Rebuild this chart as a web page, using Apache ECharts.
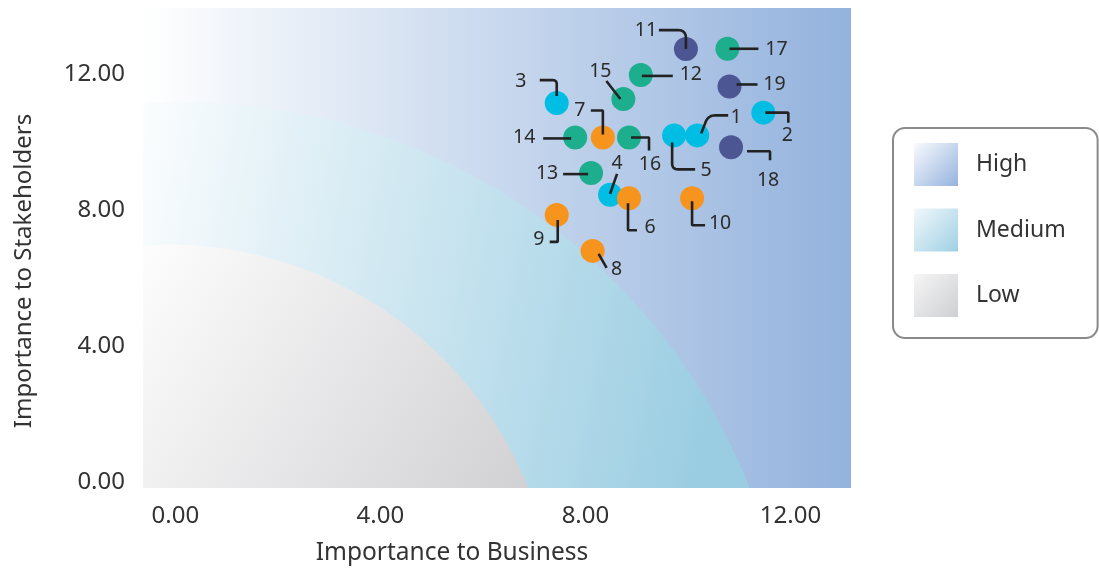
<!DOCTYPE html>
<html><head><meta charset="utf-8">
<script src="https://cdn.jsdelivr.net/npm/echarts@6/dist/echarts.min.js"></script>
<style>html,body{margin:0;padding:0;background:#fff}#c{width:1099px;height:570px}</style>
</head><body><div id="c"></div>
<script>
// ---- data ----
const labels = ['1','2','3','4','5','6','7','8','9','10','11','12','13','14','15','16','17','18','19'];
const business = [10.18, 11.47, 7.44, 8.48, 9.73, 8.85, 8.34, 8.14, 7.44, 10.08, 9.96, 9.08, 8.11, 7.80, 8.74, 8.85, 10.77, 10.84, 10.81];
const stakeholders = [10.20, 10.87, 11.15, 8.45, 10.20, 8.35, 10.14, 6.80, 7.86, 8.35, 12.74, 11.98, 9.09, 10.14, 11.27, 10.14, 12.75, 9.85, 11.64];
const groups = ['A','A','A','A','A','B','B','B','B','B','C','D','D','D','D','D','D','C','C'];
const zoneNames = ['High','Medium','Low'];
// zone boundaries: ellipse arcs in data units (High = whole plot)
const zoneCx = [null, 0.14, -0.12];
const zoneCy = [null, -6.76, -4.40];
const zoneRx = [null, 11.89, 7.54];
const zoneRy = [null, 17.94, 11.38];
const xTicks = [0, 4, 8, 12];
const yTicks = [0, 4, 8, 12];
const xRange = [-0.63, 13.18];
const yRange = [-0.18, 13.95];

// ---- styles ----
const FONT = '"Noto Sans", "Open Sans", sans-serif';
const groupColors = {A:'#00bde3', B:'#f7941d', C:'#4b5692', D:'#1dae8d'};
const lin = (x2, y2, c0, c1) => ({type:'linear', x:0, y:0, x2:x2, y2:y2, colorStops:[{offset:0,color:c0},{offset:1,color:c1}]});
const areaFill = [lin(1,0,'#ffffff','#93b2dd'), lin(1,0.3,'#fbfdfe','#9acde2'), lin(1,1,'#fdfdfd','#d1d1d4')];
const legendFill = [lin(1,1,'#f8fafd','#95b3de'), lin(1,1,'#f1f8fb','#9fd0e4'), lin(1,1,'#f6f6f6','#cecfd2')];
// leader line offsets (px, relative to point centre), corner radius, text centre
const leaderLayout = {
  '1':{line:[[4,-2],[11,-20],[31,-20]], r:7, text:[39,-18]},
  '2':{line:[[2,0],[25,0],[25,10]], r:1, text:[24,23]},
  '3':{line:[[-17,-23],[0,-23],[0,-7]], r:4, text:[-36,-22]},
  '4':{line:[[0,-1],[7,-21]], text:[7,-31]},
  '5':{line:[[-2,7],[-2,34],[21,34]], r:6, text:[32,35]},
  '6':{line:[[-1,5],[-1,32],[8,32]], r:1, text:[21,29]},
  '7':{line:[[0,-3],[0,-27],[-12,-27]], r:1, text:[-23,-27]},
  '8':{line:[[6,3],[14,17]], text:[24,19]},
  '9':{line:[[1,5],[1,27],[-7,27]], r:1, text:[-18,25]},
  '10':{line:[[0,3],[0,27],[13,27]], r:1, text:[28,25]},
  '11':{line:[[-27,-19],[0,-19],[0,0]], r:8, text:[-40,-19]},
  '12':{line:[[1,1],[32,1]], text:[50,0]},
  '13':{line:[[-28,1],[-3,1]], text:[-44,0]},
  '14':{line:[[-32,1],[-4,1]], text:[-51,0]},
  '15':{line:[[-17,-18],[-3,0]], text:[-23,-28]},
  '16':{line:[[2,0],[20,0],[20,13]], r:1, text:[21,27]},
  '17':{line:[[2,0],[31,0]], text:[49,1]},
  '18':{line:[[16,4],[39,4],[39,13]], r:1, text:[37,33]},
  '19':{line:[[7,-2],[28,-2]], text:[45,-2]}
};

function rounded(pts, r){
  if (!r || pts.length < 3) return pts;
  const out = [pts[0]];
  for (let i = 1; i < pts.length - 1; i++){
    const p0 = pts[i-1], p1 = pts[i], p2 = pts[i+1];
    const d0 = Math.hypot(p0[0]-p1[0], p0[1]-p1[1]), d2 = Math.hypot(p2[0]-p1[0], p2[1]-p1[1]);
    const a = [p1[0]+(p0[0]-p1[0])*r/d0, p1[1]+(p0[1]-p1[1])*r/d0];
    const b = [p1[0]+(p2[0]-p1[0])*r/d2, p1[1]+(p2[1]-p1[1])*r/d2];
    for (let k = 0; k <= 8; k++){
      const t = k/8, u = 1-t;
      out.push([u*u*a[0]+2*u*t*p1[0]+t*t*b[0], u*u*a[1]+2*u*t*p1[1]+t*t*b[1]]);
    }
  }
  out.push(pts[pts.length-1]);
  return out;
}

function zoneRender(zi){
  return function(params, api){
    const x0 = xRange[0], y0 = yRange[0];
    if (zoneRx[zi] == null){
      const p0 = api.coord([xRange[0], yRange[1]]), p1 = api.coord([xRange[1], yRange[0]]);
      return {type:'rect', shape:{x:p0[0], y:p0[1], width:p1[0]-p0[0], height:p1[1]-p0[1]}, style:{fill:areaFill[zi]}};
    }
    const cx = api.value(0), cy = api.value(1), rx = zoneRx[zi], ry = zoneRy[zi];
    const t0 = Math.asin((y0 - cy)/ry), t1 = Math.acos((x0 - cx)/rx);
    const pts = [api.coord([x0, y0])];
    const N = 160;
    for (let i = 0; i <= N; i++){
      const t = t0 + (t1-t0)*i/N;
      pts.push(api.coord([cx + rx*Math.cos(t), cy + ry*Math.sin(t)]));
    }
    return {type:'polygon', shape:{points:pts}, style:{fill:areaFill[zi]}};
  };
}

function leaderRender(params, api){
  const i = api.value(2);
  const c = api.coord([api.value(0), api.value(1)]);
  const L = leaderLayout[labels[i]];
  const pts = rounded(L.line.map(p => [c[0]+p[0], c[1]+p[1]]), L.r);
  return {type:'group', children:[
    {type:'polyline', shape:{points:pts}, style:{stroke:'#222', lineWidth:2.6, fill:null, lineJoin:'round'}},
    {type:'text', x:c[0]+L.text[0], y:c[1]+L.text[1], style:{text:labels[i], fill:'#2b2b2b', fontSize:19.5, fontFamily:FONT, align:'center', verticalAlign:'middle'}}
  ]};
}

const pointData = business.map((x, i) => [x, stakeholders[i], i]);
const zoneSeries = zoneNames.map((name, zi) => ({
  name: name, type:'custom', z:1, silent:true, clip:false,
  itemStyle:{color:legendFill[zi]},
  renderItem: zoneRender(zi),
  encode:{x:0, y:1},
  data:[[zoneCx[zi] == null ? 0 : zoneCx[zi], zoneCy[zi] == null ? 0 : zoneCy[zi]]]
}));

const chart = echarts.init(document.getElementById('c'));
chart.setOption({
  animation:false,
  textStyle:{fontFamily:FONT},
  grid:{left:143, right:248, top:8, bottom:82, containLabel:false, outerBoundsMode:'none'},
  legend:{
    orient:'vertical', left:893, top:128,
    itemWidth:44, itemHeight:43, itemGap:22.5,
    padding:[15,32,21,21],
    borderColor:'#8a8a8a', borderWidth:2, borderRadius:12,
    textStyle:{fontSize:23, color:'#333', fontFamily:FONT, padding:[0,0,0,13]},
    data: zoneNames.map((n, zi) => ({name:n, icon:'rect', itemStyle:{color:legendFill[zi]}}))
  },
  xAxis:{
    type:'value', min:xRange[0], max:xRange[1],
    splitLine:{show:false}, axisLine:{show:false}, axisTick:{show:false},
    axisLabel:{customValues:xTicks, formatter:v => v.toFixed(2), fontSize:24, color:'#333', margin:16, fontFamily:FONT},
    name:'Importance to Business', nameLocation:'middle', nameGap:53,
    nameTextStyle:{fontSize:24.5, color:'#333', fontFamily:FONT, padding:[0,90,0,0]}
  },
  yAxis:{
    type:'value', min:yRange[0], max:yRange[1],
    splitLine:{show:false}, axisLine:{show:false}, axisTick:{show:false},
    axisLabel:{customValues:yTicks, formatter:v => v.toFixed(2), fontSize:24, color:'#333', margin:18, fontFamily:FONT},
    name:'Importance to Stakeholders', nameLocation:'middle', nameGap:107,
    nameTextStyle:{fontSize:24, color:'#333', fontFamily:FONT, padding:[0,46,0,0]}
  },
  series: zoneSeries.concat([
    {type:'scatter', z:3, symbolSize:24, silent:true,
     itemStyle:{color: p => groupColors[groups[p.dataIndex]], opacity:1},
     data: pointData},
    {type:'custom', z:4, silent:true, renderItem: leaderRender, encode:{x:0, y:1}, data: pointData}
  ])
});
</script></body></html>
